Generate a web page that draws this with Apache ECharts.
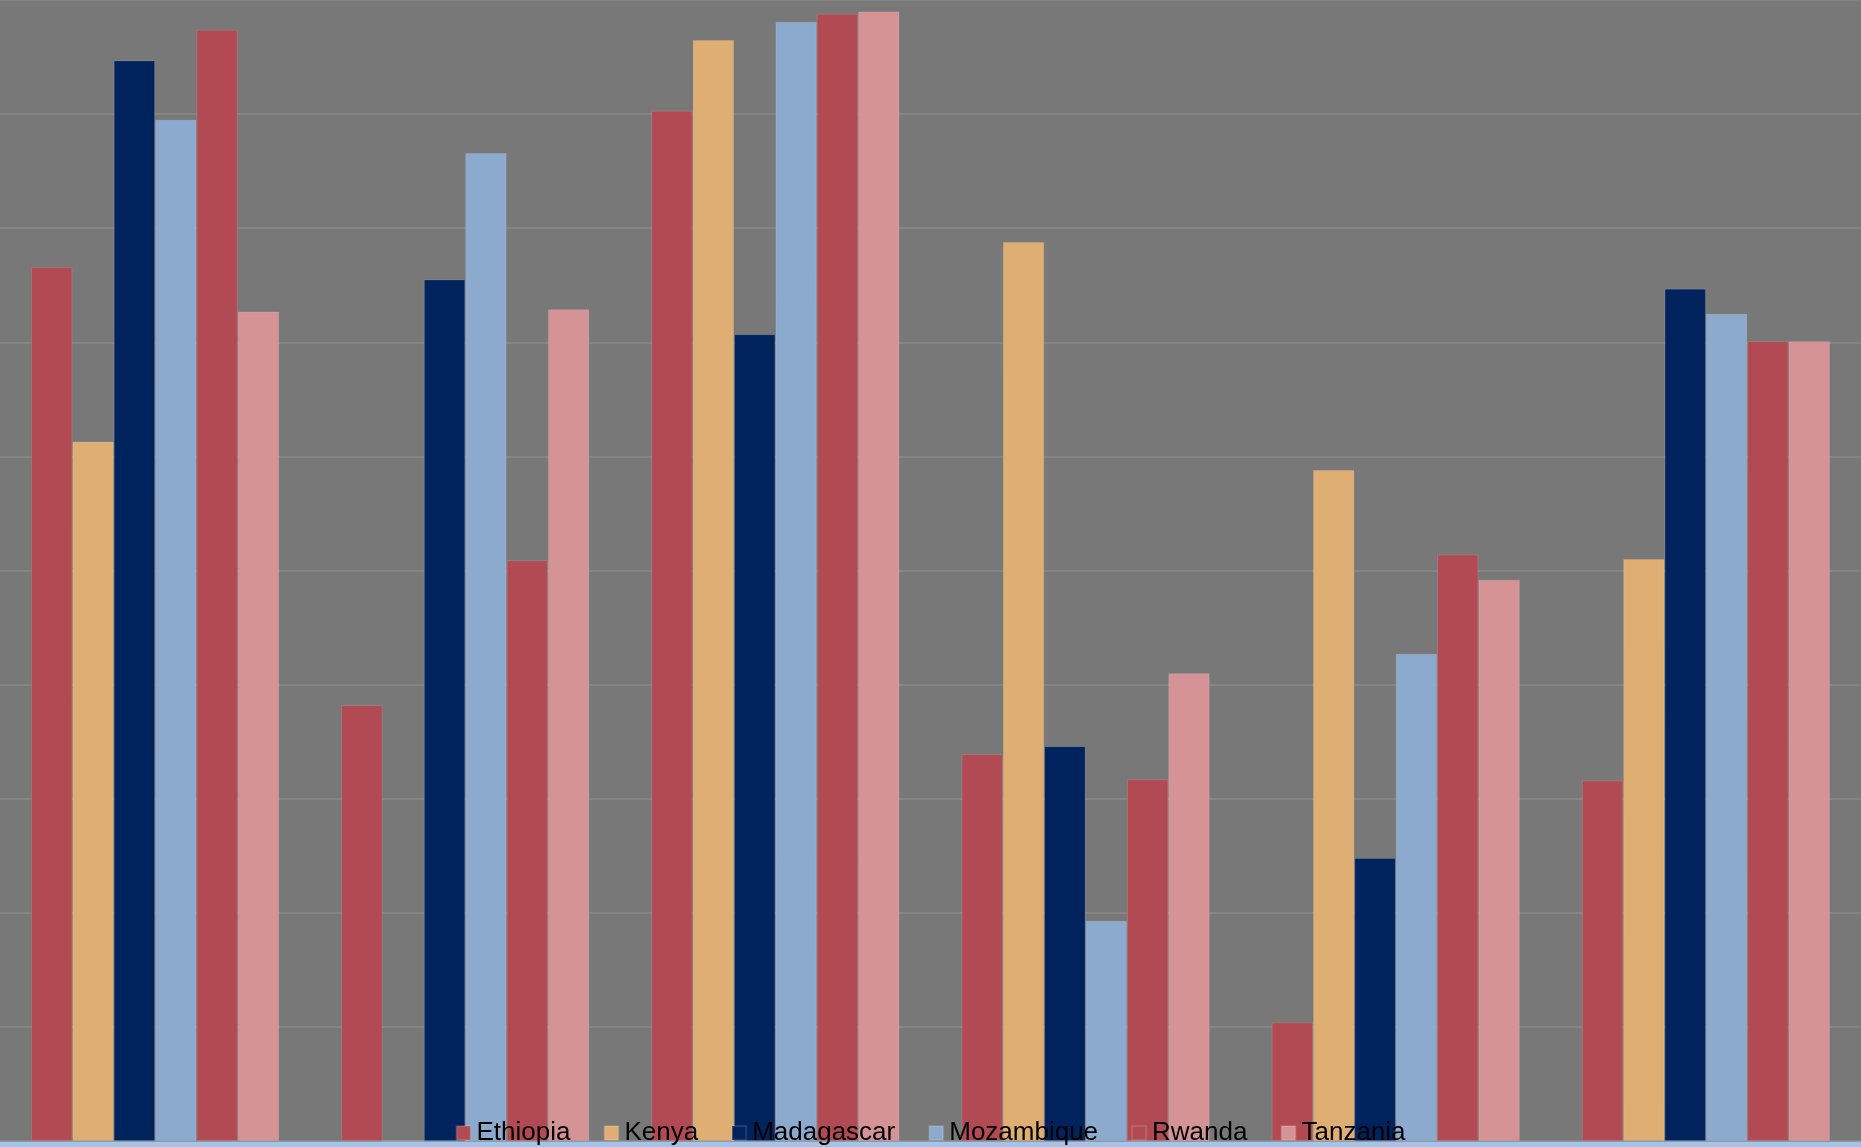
<!DOCTYPE html>
<html>
<head>
<meta charset="utf-8">
<script src="https://cdn.jsdelivr.net/npm/echarts@6/dist/echarts.min.js"></script>
<style>
html,body{margin:0;padding:0;background:#a3c4e8;}
#chart{width:1861px;height:1147px;}
</style>
</head>
<body>
<div id="chart"></div>
<script>
const categories = ['1', '2', '3', '4', '5', '6'];
const seriesNames = ['Ethiopia', 'Kenya', 'Madagascar', 'Mozambique', 'Rwanda', 'Tanzania'];
const ethiopia   = [7.66, 3.82, 9.03, 3.39, 1.04, 3.16];
const kenya      = [6.13, 0,    9.65, 7.88, 5.88, 5.10];
const madagascar = [9.47, 7.55, 7.07, 3.46, 2.48, 7.47];
const mozambique = [8.95, 8.66, 9.81, 1.93, 4.27, 7.25];
const rwanda     = [9.74, 5.09, 9.88, 3.17, 5.14, 7.01];
const tanzania   = [7.27, 7.29, 9.90, 4.10, 4.92, 7.01];
const yTicks = [0, 1, 2, 3, 4, 5, 6, 7, 8, 9, 10];

const values = [ethiopia, kenya, madagascar, mozambique, rwanda, tanzania];
const colors = ['#b24a53', '#dfae72', '#00235e', '#8caacd', '#b24a53', '#d69396'];

const chart = echarts.init(document.getElementById('chart'));
chart.setOption({
  backgroundColor: '#a3c4e8',
  animation: false,
  color: colors,
  grid: { left: 0, right: 0, top: 0, bottom: 6, show: true, backgroundColor: '#787878', borderWidth: 0 },
  legend: {
    data: seriesNames,
    left: 'center',
    top: 1115,
    itemWidth: 14,
    itemHeight: 14,
    itemGap: 33,
    icon: 'rect',
    textStyle: { fontFamily: 'Liberation Sans, Arial, sans-serif', fontSize: 26, color: '#000', padding: [0, 0, 0, 1] }
  },
  xAxis: {
    type: 'category',
    data: categories,
    axisLine: { show: false },
    axisTick: { show: false },
    axisLabel: { show: false }
  },
  yAxis: {
    type: 'value',
    min: yTicks[0],
    max: yTicks[yTicks.length - 1],
    interval: 1,
    axisLine: { show: false },
    axisTick: { show: false },
    axisLabel: { show: false },
    splitLine: { lineStyle: { color: '#8a8a8a', width: 1.5 } }
  },
  series: seriesNames.map((name, i) => ({
    name: name,
    type: 'bar',
    data: values[i],
    barGap: '0%',
    barCategoryGap: '20%',
    itemStyle: { color: colors[i], borderColor: 'rgba(255,255,255,0.12)', borderWidth: 1 }
  }))
});
</script>
</body>
</html>
